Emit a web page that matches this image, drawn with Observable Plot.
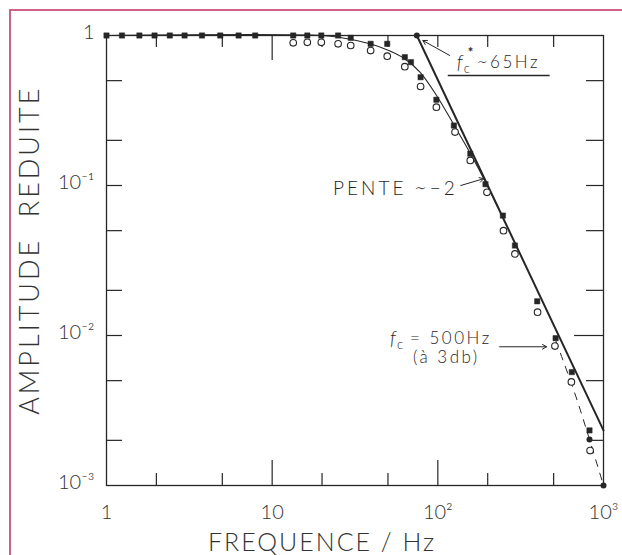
<!DOCTYPE html>
<html>
<head>
<meta charset="utf-8">
<script src="https://cdn.jsdelivr.net/npm/d3@7"></script>
<script src="https://cdn.jsdelivr.net/npm/@observablehq/plot@0.6"></script>
<style>
  html, body { margin: 0; padding: 0; background: #fff; }
  #wrap { position: relative; width: 622px; height: 555px; overflow: hidden; }
  #border { position: absolute; left: 9px; top: 9px; width: 700px; height: 700px;
            border-top: 2px solid #cf6185; border-left: 2px solid #cf6185; }
  #chart { position: absolute; left: 0; top: 0; }
</style>
</head>
<body>
<div id="wrap"><div id="border"></div><div id="chart"></div></div>
<script>
// ---- data ----
const squareFreq = [1, 1.24, 1.58, 1.95, 2.41, 2.96, 3.77, 4.86, 6.27, 7.9, 13.4, 16.3, 19.8, 25, 29.8, 39.3, 49.5, 63.2, 68.8, 78.7, 98, 125, 157, 194, 247, 292, 398, 514, 644, 823];
const squareAmp  = [1, 1, 1, 1, 1, 1, 1, 1, 1, 1, 1, 1, 1, 1, 0.965, 0.88, 0.88, 0.717, 0.664, 0.527, 0.373, 0.251, 0.163, 0.102, 0.063, 0.0398, 0.0169, 0.0096, 0.0057, 0.00233];
const circleFreq = [13.4, 16.3, 19.8, 25, 29.8, 39.3, 49.5, 63.2, 78.7, 98, 127, 157, 198, 249, 292, 400, 509, 640, 830];
const circleAmp  = [0.894, 0.9, 0.9, 0.88, 0.858, 0.794, 0.728, 0.62, 0.457, 0.333, 0.227, 0.147, 0.09, 0.05, 0.035, 0.0143, 0.0085, 0.0049, 0.00171];
const dotFreq = [74.7, 823, 1000];
const dotAmp  = [1, 0.00203, 0.001];
const slopeFreq = [74.7, 1000];
const slopeAmp  = [1, 0.00233];
const curveFreq = [1, 20, 25.7, 39, 51, 63, 78, 98, 126, 156, 197, 230];
const curveAmp  = [1, 1, 0.97, 0.88, 0.79, 0.70, 0.57, 0.40, 0.25, 0.166, 0.102, 0.072];
const dashFreq = [514, 669, 823, 1000];
const dashAmp  = [0.0093, 0.00416, 0.00203, 0.001];

const xTickValues = [1, 10, 100, 1000];
const xTickLabels = ["1", "10", "10²", "10³"];
const yTickValues = [1, 0.1, 0.01, 0.001];
const yTickLabels = ["1", "10⁻¹", "10⁻²", "10⁻³"];
const bottomMinor = [2, 5, 20, 50, 200, 500];
const bottomMajor = [10, 100];
const topMinor = [2, 5, 20, 50, 100, 200, 500];
const topMajor = [10];
const leftTicks = [0.5, 0.2, 0.1, 0.05, 0.02, 0.01, 0.005, 0.002];
const rightMinor = [0.5, 0.2, 0.1, 0.05, 0.02, 0.005];
const rightMajor = [0.01];
const rightShort = [0.002];

const xTitle = "FREQUENCE / Hz";
const yTitle = "AMPLITUDE  REDUITE";

// ---- build ----
const squares = squareFreq.map((f, i) => ({f, a: squareAmp[i]}));
const circles = circleFreq.map((f, i) => ({f, a: circleAmp[i]}));
const dots = dotFreq.map((f, i) => ({f, a: dotAmp[i]}));
const slope = slopeFreq.map((f, i) => ({f, a: slopeAmp[i]}));
const curve = curveFreq.map((f, i) => ({f, a: curveAmp[i]}));
const dash = dashFreq.map((f, i) => ({f, a: dashAmp[i]}));
const xLab = xTickValues.map((v, i) => ({v, t: xTickLabels[i]}));
const yLab = yTickValues.map((v, i) => ({v, t: yTickLabels[i]}));

const ink = "#262626";
const font = "Lato, 'DejaVu Sans', sans-serif";
const W = 622, H = 555, mL = 106, mR = 19, mT = 35, mB = 70;
const pw = W - mL - mR, ph = H - mT - mB;

const chart = Plot.plot({
  width: W, height: H,
  marginLeft: mL, marginRight: mR, marginTop: mT, marginBottom: mB,
  x: {type: "log", domain: [1, 1000], axis: null},
  y: {type: "log", domain: [1e-3, 1], axis: null},
  style: {background: "transparent", fontFamily: font, color: ink},
  marks: [
    Plot.frame({stroke: ink, strokeWidth: 1.3}),
    Plot.tickX(bottomMinor, {x: d => d, insetTop: ph - 12, stroke: ink, strokeWidth: 1.2}),
    Plot.tickX(bottomMajor, {x: d => d, insetTop: ph - 25, stroke: ink, strokeWidth: 1.2}),
    Plot.tickX(topMinor, {x: d => d, insetBottom: ph - 12, stroke: ink, strokeWidth: 1.2}),
    Plot.tickX(topMajor, {x: d => d, insetBottom: ph - 25, stroke: ink, strokeWidth: 1.2}),
    Plot.tickY(leftTicks, {y: d => d, insetRight: pw - 16, stroke: ink, strokeWidth: 1.2}),
    Plot.tickY(rightMinor, {y: d => d, insetLeft: pw - 17, stroke: ink, strokeWidth: 1.2}),
    Plot.tickY(rightMajor, {y: d => d, insetLeft: pw - 29, stroke: ink, strokeWidth: 1.2}),
    Plot.tickY(rightShort, {y: d => d, insetLeft: pw - 12, stroke: ink, strokeWidth: 1.2}),
    // curves
    Plot.line(curve, {x: "f", y: "a", curve: "catmull-rom", stroke: ink, strokeWidth: 1.1}),
    Plot.line(slope, {x: "f", y: "a", stroke: ink, strokeWidth: 2}),
    Plot.line(dash, {x: "f", y: "a", curve: "catmull-rom", stroke: ink, strokeWidth: 1, strokeDasharray: "7,7"}),
    // markers
    Plot.dot(circles, {x: "f", y: "a", r: 3.3, stroke: ink, strokeWidth: 1.1, fill: "white"}),
    Plot.dot(squares, {x: "f", y: "a", symbol: "square", r: 3, fill: ink, stroke: ink, strokeWidth: 0.5}),
    Plot.dot(dots, {x: "f", y: "a", r: 3, fill: ink}),
    // tick labels
    Plot.text(xLab, {x: "v", y: () => 1e-3, text: "t", dy: 27, fontSize: 20, fill: "#333", fontWeight: 300}),
    Plot.text(yLab, {x: () => 1, y: "v", text: "t", dx: -12, dy: -3, textAnchor: "end", fontSize: 20, fill: "#333", fontWeight: 300}),
    // axis titles
    Plot.text([xTitle], {x: () => 20, y: () => 1e-3, text: d => d, dy: 57, fontSize: 25, fill: "#333", fontWeight: 300}),
    Plot.text([yTitle], {x: () => 1, y: () => 0.037, text: d => d, dx: -76, rotate: -90, fontSize: 27, fill: "#333", fontWeight: 300}),
    // annotation: fc* ~ 65 Hz
    Plot.text(["f"], {x: () => 130, y: () => 0.66, text: d => d, textAnchor: "start", fontSize: 19, fontStyle: "italic", fill: ink, fontWeight: 300}),
    Plot.text(["c"], {x: () => 130, y: () => 0.66, text: d => d, dx: 7, dy: 6, textAnchor: "start", fontSize: 13, fill: ink, fontWeight: 300}),
    Plot.text(["*"], {x: () => 130, y: () => 0.66, text: d => d, dx: 11, dy: -10, textAnchor: "start", fontSize: 13, fontWeight: "bold", fill: ink}),
    Plot.text(["∼65Hz"], {x: () => 130, y: () => 0.66, text: d => d, dx: 20, textAnchor: "start", fontSize: 17, fill: ink, fontWeight: 300}),
    Plot.link([{x1: 114.8, x2: 473, y: 0.541}], {x1: "x1", x2: "x2", y1: "y", y2: "y", stroke: ink, strokeWidth: 1.3}),
    Plot.arrow([{x1: 118, y1: 0.736, x2: 81.2, y2: 0.926}], {x1: "x1", y1: "y1", x2: "x2", y2: "y2", stroke: ink, strokeWidth: 1, headLength: 7}),
    // annotation: PENTE ~ -2
    Plot.text(["PENTE ∼−2"], {x: () => 131.9, y: () => 0.0955, text: d => d, textAnchor: "end", fontSize: 19, fill: ink, fontWeight: 300}),
    Plot.arrow([{x1: 137.6, y1: 0.1, x2: 189, y2: 0.111}], {x1: "x1", y1: "y1", x2: "x2", y2: "y2", stroke: ink, strokeWidth: 1, headLength: 7}),
    // annotation: fc = 500 Hz (à 3db)
    Plot.text(["f"], {x: () => 51.4, y: () => 0.0095, text: d => d, textAnchor: "start", fontSize: 19, fontStyle: "italic", fill: ink, fontWeight: 300}),
    Plot.text(["c"], {x: () => 51.4, y: () => 0.0095, text: d => d, dx: 7, dy: 6, textAnchor: "start", fontSize: 13, fill: ink, fontWeight: 300}),
    Plot.text(["= 500Hz"], {x: () => 51.4, y: () => 0.0095, text: d => d, dx: 20, textAnchor: "start", fontSize: 17, fill: ink, fontWeight: 300}),
    Plot.text(["(à 3db)"], {x: () => 70.7, y: () => 0.0071, text: d => d, textAnchor: "start", fontSize: 17, fill: ink, fontWeight: 300}),
    Plot.arrow([{x1: 236, y1: 0.00841, x2: 453, y2: 0.00841}], {x1: "x1", y1: "y1", x2: "x2", y2: "y2", stroke: ink, strokeWidth: 1, headLength: 7})
  ]
});
document.getElementById("chart").appendChild(chart);

// letter spacing for the hand-lettered look
const spacing = {"FREQUENCE / Hz": 2, "AMPLITUDE  REDUITE": 3, "PENTE ∼−2": 3, "∼65Hz": 2.5, "= 500Hz": 2.5, "(à 3db)": 2.5};
d3.select(chart).selectAll("text").each(function () {
  const s = spacing[this.textContent];
  if (s) this.setAttribute("letter-spacing", s + "px");
  this.setAttribute("xml:space", "preserve");
  this.style.whiteSpace = "pre";
});
</script>
</body>
</html>
